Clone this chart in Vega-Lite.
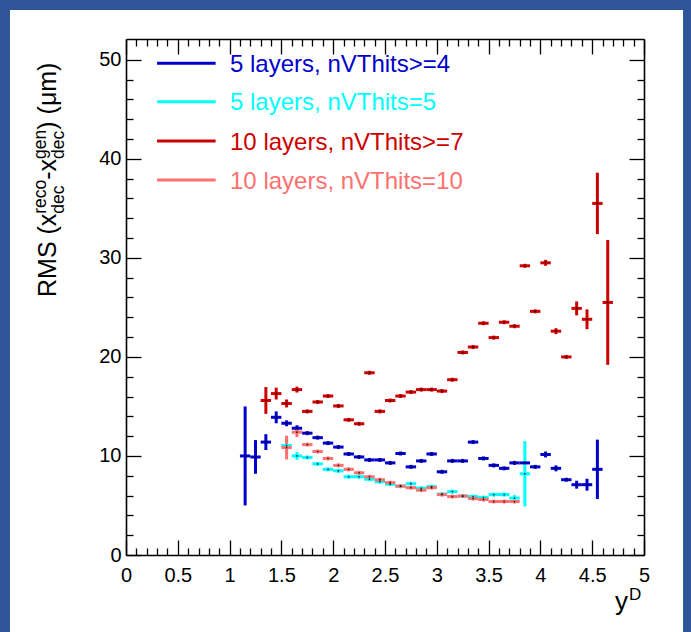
{
"$schema": "https://vega.github.io/schema/vega-lite/v6.json",
"width": 518, "height": 516,
"autosize": {"type": "none"},
"padding": {"left": 126, "top": 39, "right": 47, "bottom": 77},
"background": "white",
"config": {"view": {"stroke": null}, "font": "Liberation Sans",
  "axis": {"grid": false, "zindex": 1, "tickColor": "black", "tickWidth": 1.3, "domainColor": "black", "domainWidth": 1.6, "labelColor": "black", "labelFont": "Liberation Sans", "labelFontSize": 20, "labelFlush": false, "labelOverlap": false}},
"resolve": {"axis": {"x": "independent", "y": "independent"}},
"datasets": {"d": [
{"s":"5 layers, nVThits>=4","x":1.15,"y":10.0,"e":5.0},
{"s":"5 layers, nVThits>=4","x":1.25,"y":9.9,"e":1.7},
{"s":"5 layers, nVThits>=4","x":1.35,"y":11.4,"e":0.8},
{"s":"5 layers, nVThits>=4","x":1.45,"y":13.9,"e":0.6},
{"s":"5 layers, nVThits>=4","x":1.55,"y":13.3,"e":0.3},
{"s":"5 layers, nVThits>=4","x":1.65,"y":12.8,"e":0.3},
{"s":"5 layers, nVThits>=4","x":1.75,"y":12.3,"e":0.2},
{"s":"5 layers, nVThits>=4","x":1.85,"y":11.85,"e":0.2},
{"s":"5 layers, nVThits>=4","x":1.95,"y":11.3,"e":0.2},
{"s":"5 layers, nVThits>=4","x":2.05,"y":10.9,"e":0.2},
{"s":"5 layers, nVThits>=4","x":2.15,"y":10.2,"e":0.2},
{"s":"5 layers, nVThits>=4","x":2.25,"y":9.9,"e":0.2},
{"s":"5 layers, nVThits>=4","x":2.35,"y":9.6,"e":0.2},
{"s":"5 layers, nVThits>=4","x":2.45,"y":9.6,"e":0.2},
{"s":"5 layers, nVThits>=4","x":2.55,"y":9.3,"e":0.2},
{"s":"5 layers, nVThits>=4","x":2.65,"y":10.25,"e":0.2},
{"s":"5 layers, nVThits>=4","x":2.75,"y":8.9,"e":0.2},
{"s":"5 layers, nVThits>=4","x":2.85,"y":9.5,"e":0.2},
{"s":"5 layers, nVThits>=4","x":2.95,"y":10.2,"e":0.2},
{"s":"5 layers, nVThits>=4","x":3.05,"y":8.4,"e":0.2},
{"s":"5 layers, nVThits>=4","x":3.15,"y":9.5,"e":0.2},
{"s":"5 layers, nVThits>=4","x":3.25,"y":9.5,"e":0.2},
{"s":"5 layers, nVThits>=4","x":3.35,"y":11.4,"e":0.2},
{"s":"5 layers, nVThits>=4","x":3.45,"y":9.75,"e":0.2},
{"s":"5 layers, nVThits>=4","x":3.55,"y":9.05,"e":0.2},
{"s":"5 layers, nVThits>=4","x":3.65,"y":8.75,"e":0.2},
{"s":"5 layers, nVThits>=4","x":3.75,"y":9.3,"e":0.2},
{"s":"5 layers, nVThits>=4","x":3.85,"y":9.3,"e":0.2},
{"s":"5 layers, nVThits>=4","x":3.95,"y":8.9,"e":0.2},
{"s":"5 layers, nVThits>=4","x":4.05,"y":10.15,"e":0.3},
{"s":"5 layers, nVThits>=4","x":4.15,"y":8.75,"e":0.3},
{"s":"5 layers, nVThits>=4","x":4.25,"y":7.6,"e":0.2},
{"s":"5 layers, nVThits>=4","x":4.35,"y":7.1,"e":0.4},
{"s":"5 layers, nVThits>=4","x":4.45,"y":7.1,"e":0.6},
{"s":"5 layers, nVThits>=4","x":4.55,"y":8.65,"e":3.0},
{"s":"5 layers, nVThits=5","x":1.55,"y":11.05,"e":0.9},
{"s":"5 layers, nVThits=5","x":1.65,"y":10.0,"e":0.4},
{"s":"5 layers, nVThits=5","x":1.75,"y":9.85,"e":0.2},
{"s":"5 layers, nVThits=5","x":1.85,"y":9.2,"e":0.2},
{"s":"5 layers, nVThits=5","x":1.95,"y":8.65,"e":0.2},
{"s":"5 layers, nVThits=5","x":2.05,"y":8.5,"e":0.2},
{"s":"5 layers, nVThits=5","x":2.15,"y":7.9,"e":0.2},
{"s":"5 layers, nVThits=5","x":2.25,"y":7.9,"e":0.2},
{"s":"5 layers, nVThits=5","x":2.35,"y":7.65,"e":0.2},
{"s":"5 layers, nVThits=5","x":2.45,"y":7.4,"e":0.2},
{"s":"5 layers, nVThits=5","x":2.55,"y":7.15,"e":0.2},
{"s":"5 layers, nVThits=5","x":2.65,"y":6.95,"e":0.2},
{"s":"5 layers, nVThits=5","x":2.75,"y":7.2,"e":0.2},
{"s":"5 layers, nVThits=5","x":2.85,"y":6.75,"e":0.2},
{"s":"5 layers, nVThits=5","x":2.95,"y":6.9,"e":0.2},
{"s":"5 layers, nVThits=5","x":3.05,"y":6.15,"e":0.2},
{"s":"5 layers, nVThits=5","x":3.15,"y":6.4,"e":0.2},
{"s":"5 layers, nVThits=5","x":3.25,"y":5.95,"e":0.2},
{"s":"5 layers, nVThits=5","x":3.35,"y":5.9,"e":0.2},
{"s":"5 layers, nVThits=5","x":3.45,"y":5.8,"e":0.2},
{"s":"5 layers, nVThits=5","x":3.55,"y":6.1,"e":0.2},
{"s":"5 layers, nVThits=5","x":3.65,"y":6.1,"e":0.2},
{"s":"5 layers, nVThits=5","x":3.75,"y":5.75,"e":0.3},
{"s":"5 layers, nVThits=5","x":3.85,"y":8.2,"e":3.3},
{"s":"10 layers, nVThits>=7","x":1.35,"y":15.6,"e":1.35},
{"s":"10 layers, nVThits>=7","x":1.45,"y":16.3,"e":0.6},
{"s":"10 layers, nVThits>=7","x":1.55,"y":15.3,"e":0.4},
{"s":"10 layers, nVThits>=7","x":1.65,"y":16.7,"e":0.3},
{"s":"10 layers, nVThits>=7","x":1.75,"y":14.5,"e":0.2},
{"s":"10 layers, nVThits>=7","x":1.85,"y":15.45,"e":0.2},
{"s":"10 layers, nVThits>=7","x":1.95,"y":16.05,"e":0.2},
{"s":"10 layers, nVThits>=7","x":2.05,"y":15.05,"e":0.2},
{"s":"10 layers, nVThits>=7","x":2.15,"y":13.65,"e":0.2},
{"s":"10 layers, nVThits>=7","x":2.25,"y":13.25,"e":0.2},
{"s":"10 layers, nVThits>=7","x":2.35,"y":18.4,"e":0.2},
{"s":"10 layers, nVThits>=7","x":2.45,"y":14.5,"e":0.2},
{"s":"10 layers, nVThits>=7","x":2.55,"y":15.6,"e":0.2},
{"s":"10 layers, nVThits>=7","x":2.65,"y":16.05,"e":0.2},
{"s":"10 layers, nVThits>=7","x":2.75,"y":16.45,"e":0.2},
{"s":"10 layers, nVThits>=7","x":2.85,"y":16.7,"e":0.2},
{"s":"10 layers, nVThits>=7","x":2.95,"y":16.7,"e":0.2},
{"s":"10 layers, nVThits>=7","x":3.05,"y":16.55,"e":0.2},
{"s":"10 layers, nVThits>=7","x":3.15,"y":17.7,"e":0.2},
{"s":"10 layers, nVThits>=7","x":3.25,"y":20.45,"e":0.2},
{"s":"10 layers, nVThits>=7","x":3.35,"y":21.0,"e":0.2},
{"s":"10 layers, nVThits>=7","x":3.45,"y":23.4,"e":0.2},
{"s":"10 layers, nVThits>=7","x":3.55,"y":21.95,"e":0.2},
{"s":"10 layers, nVThits>=7","x":3.65,"y":23.5,"e":0.2},
{"s":"10 layers, nVThits>=7","x":3.75,"y":23.1,"e":0.2},
{"s":"10 layers, nVThits>=7","x":3.85,"y":29.2,"e":0.2},
{"s":"10 layers, nVThits>=7","x":3.95,"y":24.6,"e":0.2},
{"s":"10 layers, nVThits>=7","x":4.05,"y":29.5,"e":0.3},
{"s":"10 layers, nVThits>=7","x":4.15,"y":22.6,"e":0.3},
{"s":"10 layers, nVThits>=7","x":4.25,"y":20.0,"e":0.2},
{"s":"10 layers, nVThits>=7","x":4.35,"y":24.9,"e":0.7},
{"s":"10 layers, nVThits>=7","x":4.45,"y":23.8,"e":1.0},
{"s":"10 layers, nVThits>=7","x":4.55,"y":35.5,"e":3.1},
{"s":"10 layers, nVThits>=7","x":4.65,"y":25.5,"e":6.3},
{"s":"10 layers, nVThits=10","x":1.55,"y":10.85,"e":1.2},
{"s":"10 layers, nVThits=10","x":1.65,"y":12.4,"e":0.5},
{"s":"10 layers, nVThits=10","x":1.75,"y":11.15,"e":0.2},
{"s":"10 layers, nVThits=10","x":1.85,"y":10.45,"e":0.2},
{"s":"10 layers, nVThits=10","x":1.95,"y":9.75,"e":0.2},
{"s":"10 layers, nVThits=10","x":2.05,"y":9.05,"e":0.2},
{"s":"10 layers, nVThits=10","x":2.15,"y":8.65,"e":0.2},
{"s":"10 layers, nVThits=10","x":2.25,"y":8.3,"e":0.2},
{"s":"10 layers, nVThits=10","x":2.35,"y":7.9,"e":0.2},
{"s":"10 layers, nVThits=10","x":2.45,"y":7.6,"e":0.2},
{"s":"10 layers, nVThits=10","x":2.55,"y":7.3,"e":0.2},
{"s":"10 layers, nVThits=10","x":2.65,"y":6.95,"e":0.2},
{"s":"10 layers, nVThits=10","x":2.75,"y":6.8,"e":0.2},
{"s":"10 layers, nVThits=10","x":2.85,"y":6.55,"e":0.2},
{"s":"10 layers, nVThits=10","x":2.95,"y":6.8,"e":0.2},
{"s":"10 layers, nVThits=10","x":3.05,"y":6.1,"e":0.2},
{"s":"10 layers, nVThits=10","x":3.15,"y":5.9,"e":0.2},
{"s":"10 layers, nVThits=10","x":3.25,"y":5.95,"e":0.2},
{"s":"10 layers, nVThits=10","x":3.35,"y":5.7,"e":0.2},
{"s":"10 layers, nVThits=10","x":3.45,"y":5.6,"e":0.2},
{"s":"10 layers, nVThits=10","x":3.55,"y":5.4,"e":0.2},
{"s":"10 layers, nVThits=10","x":3.65,"y":5.4,"e":0.2},
{"s":"10 layers, nVThits=10","x":3.75,"y":5.4,"e":0.2}
]},
"layer": [
{"data": {"values": [{}]}, "mark": {"type": "rect", "fill": "#2d5597"},
 "encoding": {"x": {"datum": -1.4, "type": "quantitative", "axis": null}, "x2": {"datum": -1.12},
  "y": {"datum": -10, "type": "quantitative", "axis": null}, "y2": {"datum": 60}}},
{"data": {"values": [{}]}, "mark": {"type": "rect", "fill": "#2d5597"},
 "encoding": {"x": {"datum": -1.4, "type": "quantitative", "axis": null}, "x2": {"datum": 5.8},
  "y": {"datum": 55.03, "type": "quantitative", "axis": null}, "y2": {"datum": 60}}},
{"data": {"values": [{}]}, "mark": {"type": "rect", "fill": "#2d5597"},
 "encoding": {"x": {"datum": 5.377, "type": "quantitative", "axis": null}, "x2": {"datum": 5.8},
  "y": {"datum": -10, "type": "quantitative", "axis": null}, "y2": {"datum": 60}}},
{"data": {"name": "d"}, "mark": {"type": "errorbar", "thickness": 3},
 "encoding": {"x": {"field": "x", "type": "quantitative", "scale": {"domain": [0, 5], "nice": false, "zero": false}, "axis": null},
  "y": {"field": "y", "type": "quantitative", "scale": {"domain": [0, 52.1], "nice": false, "zero": false}, "axis": null},
  "yError": {"field": "e"},
  "color": {"field": "s", "type": "nominal", "scale": {"domain": ["5 layers, nVThits>=4", "5 layers, nVThits=5", "10 layers, nVThits>=7", "10 layers, nVThits=10"], "range": ["#0000cc", "#00ffff", "#cc0000", "#ff7070"]}, "legend": null}}},
{"data": {"name": "d"}, "mark": {"type": "tick", "orient": "horizontal", "size": 10.4, "thickness": 3, "opacity": 1},
 "encoding": {"x": {"field": "x", "type": "quantitative", "scale": {"domain": [0, 5], "nice": false, "zero": false}, "axis": null},
  "y": {"field": "y", "type": "quantitative", "scale": {"domain": [0, 52.1], "nice": false, "zero": false}, "axis": null},
  "color": {"field": "s", "type": "nominal", "scale": {"domain": ["5 layers, nVThits>=4", "5 layers, nVThits=5", "10 layers, nVThits>=7", "10 layers, nVThits=10"], "range": ["#0000cc", "#00ffff", "#cc0000", "#ff7070"]}, "legend": null}}},
{"data": {"name": "d"}, "mark": {"type": "point", "filled": true, "size": 3, "color": "black", "opacity": 0.8},
 "encoding": {"x": {"field": "x", "type": "quantitative", "axis": {"orient": "bottom", "title": null, "values": [0, 0.5, 1, 1.5, 2, 2.5, 3, 3.5, 4, 4.5, 5], "format": "~g", "tickSize": -15, "labelPadding": 25, "labelFontSize": 20, "domain": true, "zindex": 2}},
  "y": {"field": "y", "type": "quantitative", "axis": {"orient": "left", "title": null, "values": [0, 10, 20, 30, 40, 50], "format": "d", "tickSize": -15, "labelPadding": 20, "labelFontSize": 20, "domain": true, "zindex": 2}}}},
{"data": {"name": "d"}, "mark": {"type": "point", "opacity": 0},
 "encoding": {"x": {"field": "x", "type": "quantitative", "axis": {"orient": "bottom", "title": null, "labels": false, "domain": false, "tickSize": -7, "zindex": 2, "values": [0.1,0.2,0.3,0.4,0.6,0.7,0.8,0.9,1.1,1.2,1.3,1.4,1.6,1.7,1.8,1.9,2.1,2.2,2.3,2.4,2.6,2.7,2.8,2.9,3.1,3.2,3.3,3.4,3.6,3.7,3.8,3.9,4.1,4.2,4.3,4.4,4.6,4.7,4.8,4.9]}},
  "y": {"field": "y", "type": "quantitative", "axis": {"orient": "left", "title": null, "labels": false, "domain": false, "tickSize": -7, "zindex": 2, "values": [2,4,6,8,12,14,16,18,22,24,26,28,32,34,36,38,42,44,46,48]}}}},
{"data": {"name": "d"}, "mark": {"type": "point", "opacity": 0},
 "encoding": {"x": {"field": "x", "type": "quantitative", "axis": {"orient": "top", "title": null, "labels": false, "domain": true, "tickSize": -15, "zindex": 2, "values": [0, 0.5, 1, 1.5, 2, 2.5, 3, 3.5, 4, 4.5, 5]}},
  "y": {"field": "y", "type": "quantitative", "axis": {"orient": "right", "title": null, "labels": false, "domain": true, "tickSize": -15, "zindex": 2, "values": [0, 10, 20, 30, 40, 50]}}}},
{"data": {"name": "d"}, "mark": {"type": "point", "opacity": 0},
 "encoding": {"x": {"field": "x", "type": "quantitative", "axis": {"orient": "top", "title": null, "labels": false, "domain": false, "tickSize": -7, "zindex": 2, "values": [0.1,0.2,0.3,0.4,0.6,0.7,0.8,0.9,1.1,1.2,1.3,1.4,1.6,1.7,1.8,1.9,2.1,2.2,2.3,2.4,2.6,2.7,2.8,2.9,3.1,3.2,3.3,3.4,3.6,3.7,3.8,3.9,4.1,4.2,4.3,4.4,4.6,4.7,4.8,4.9]}},
  "y": {"field": "y", "type": "quantitative", "axis": {"orient": "right", "title": null, "labels": false, "domain": false, "tickSize": -7, "zindex": 2, "values": [2,4,6,8,12,14,16,18,22,24,26,28,32,34,36,38,42,44,46,48]}}}},
{"data": {"values": [{}]}, "mark": {"type": "rule", "color": "#0000cc", "strokeWidth": 3},
 "encoding": {"x": {"datum": 0.3, "type": "quantitative", "axis": null}, "x2": {"datum": 0.865}, "y": {"datum": 49.65, "type": "quantitative", "axis": null}}},
{"data": {"values": [{}]}, "mark": {"type": "rule", "color": "#00ffff", "strokeWidth": 3},
 "encoding": {"x": {"datum": 0.3, "type": "quantitative", "axis": null}, "x2": {"datum": 0.865}, "y": {"datum": 45.77, "type": "quantitative", "axis": null}}},
{"data": {"values": [{}]}, "mark": {"type": "rule", "color": "#cc0000", "strokeWidth": 3},
 "encoding": {"x": {"datum": 0.3, "type": "quantitative", "axis": null}, "x2": {"datum": 0.865}, "y": {"datum": 41.8, "type": "quantitative", "axis": null}}},
{"data": {"values": [{}]}, "mark": {"type": "rule", "color": "#ff7070", "strokeWidth": 3},
 "encoding": {"x": {"datum": 0.3, "type": "quantitative", "axis": null}, "x2": {"datum": 0.865}, "y": {"datum": 37.86, "type": "quantitative", "axis": null}}},
{"data": {"values": [{}]}, "mark": {"type": "text", "text": "5 layers, nVThits>=4", "align": "left", "baseline": "alphabetic", "fontSize": 24, "font": "Liberation Sans", "color": "#0000cc"},
 "encoding": {"x": {"datum": 1.004, "type": "quantitative", "axis": null}, "y": {"datum": 48.76, "type": "quantitative", "axis": null}}},
{"data": {"values": [{}]}, "mark": {"type": "text", "text": "5 layers, nVThits=5", "align": "left", "baseline": "alphabetic", "fontSize": 24, "font": "Liberation Sans", "color": "#00ffff"},
 "encoding": {"x": {"datum": 1.004, "type": "quantitative", "axis": null}, "y": {"datum": 44.92, "type": "quantitative", "axis": null}}},
{"data": {"values": [{}]}, "mark": {"type": "text", "text": "10 layers, nVThits>=7", "align": "left", "baseline": "alphabetic", "fontSize": 24, "font": "Liberation Sans", "color": "#cc0000"},
 "encoding": {"x": {"datum": 1.004, "type": "quantitative", "axis": null}, "y": {"datum": 40.94, "type": "quantitative", "axis": null}}},
{"data": {"values": [{}]}, "mark": {"type": "text", "text": "10 layers, nVThits=10", "align": "left", "baseline": "alphabetic", "fontSize": 24, "font": "Liberation Sans", "color": "#ff7070"},
 "encoding": {"x": {"datum": 1.004, "type": "quantitative", "axis": null}, "y": {"datum": 36.99, "type": "quantitative", "axis": null}}},
{"data": {"values": [{}]}, "mark": {"type": "text", "text": "RMS (x", "angle": 270, "align": "left", "baseline": "alphabetic", "fontSize": 25, "font": "Liberation Sans", "color": "black"},
 "encoding": {"x": {"datum": -0.676, "type": "quantitative", "axis": null}, "y": {"datum": 26.05, "type": "quantitative", "axis": null}}},
{"data": {"values": [{}]}, "mark": {"type": "text", "text": "reco", "angle": 270, "align": "left", "baseline": "alphabetic", "fontSize": 17.5, "font": "Liberation Sans", "color": "black"},
 "encoding": {"x": {"datum": -0.773, "type": "quantitative", "axis": null}, "y": {"datum": 34.46, "type": "quantitative", "axis": null}}},
{"data": {"values": [{}]}, "mark": {"type": "text", "text": "dec", "angle": 270, "align": "left", "baseline": "alphabetic", "fontSize": 17.5, "font": "Liberation Sans", "color": "black"},
 "encoding": {"x": {"datum": -0.599, "type": "quantitative", "axis": null}, "y": {"datum": 34.46, "type": "quantitative", "axis": null}}},
{"data": {"values": [{}]}, "mark": {"type": "text", "text": "-x", "angle": 270, "align": "left", "baseline": "alphabetic", "fontSize": 25, "font": "Liberation Sans", "color": "black"},
 "encoding": {"x": {"datum": -0.676, "type": "quantitative", "axis": null}, "y": {"datum": 37.89, "type": "quantitative", "axis": null}}},
{"data": {"values": [{}]}, "mark": {"type": "text", "text": "gen", "angle": 270, "align": "left", "baseline": "alphabetic", "fontSize": 17.5, "font": "Liberation Sans", "color": "black"},
 "encoding": {"x": {"datum": -0.773, "type": "quantitative", "axis": null}, "y": {"datum": 39.99, "type": "quantitative", "axis": null}}},
{"data": {"values": [{}]}, "mark": {"type": "text", "text": "dec", "angle": 270, "align": "left", "baseline": "alphabetic", "fontSize": 17.5, "font": "Liberation Sans", "color": "black"},
 "encoding": {"x": {"datum": -0.599, "type": "quantitative", "axis": null}, "y": {"datum": 39.99, "type": "quantitative", "axis": null}}},
{"data": {"values": [{}]}, "mark": {"type": "text", "text": ") (μm)", "angle": 270, "align": "left", "baseline": "alphabetic", "fontSize": 25, "font": "Liberation Sans", "color": "black"},
 "encoding": {"x": {"datum": -0.676, "type": "quantitative", "axis": null}, "y": {"datum": 42.94, "type": "quantitative", "axis": null}}},
{"data": {"values": [{}]}, "mark": {"type": "text", "text": "y", "align": "left", "baseline": "alphabetic", "fontSize": 26, "font": "Liberation Sans", "color": "black"},
 "encoding": {"x": {"datum": 4.72, "type": "quantitative", "axis": null}, "y": {"datum": -5.6, "type": "quantitative", "axis": null}}},
{"data": {"values": [{}]}, "mark": {"type": "text", "text": "D", "align": "left", "baseline": "alphabetic", "fontSize": 17, "font": "Liberation Sans", "color": "black"},
 "encoding": {"x": {"datum": 4.855, "type": "quantitative", "axis": null}, "y": {"datum": -4.54, "type": "quantitative", "axis": null}}}
]
}
